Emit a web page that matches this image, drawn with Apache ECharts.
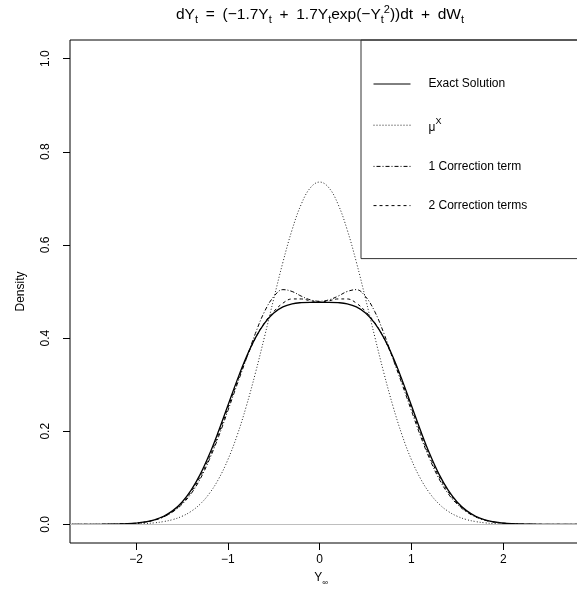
<!DOCTYPE html>
<html><head><meta charset="utf-8">
<script src="https://cdn.jsdelivr.net/npm/echarts@6.0.0/dist/echarts.min.js"></script>
<style>html,body{margin:0;padding:0;background:#fff}#c{width:577px;height:589px}</style>
</head><body><div id="c"></div>
<script>
const xs = [-2.7,-2.6,-2.5,-2.4,-2.3,-2.2,-2.1,-2.0,-1.9,-1.8,-1.7,-1.6,-1.5,-1.4,-1.3,-1.2,-1.1,-1.0,-0.9,-0.8,-0.7,-0.6,-0.5,-0.4,-0.3,-0.2,-0.1,
  0,0.1,0.2,0.3,0.4,0.5,0.6,0.7,0.8,0.9,1.0,1.1,1.2,1.3,1.4,1.5,1.6,1.7,1.8,1.9,2.0,2.1,2.2,2.3,2.4,2.5,2.6,2.7,2.8,2.9,3.0];
const exactSolution = [0,0,0.0001,0.0001,0.0003,0.0007,0.0014,0.0028,0.0054,0.0099,0.0175,0.0295,0.0476,0.0734,0.1078,0.1509,0.2010,0.2551,0.3092,0.3588,0.4005,0.4323,0.4540,0.4671,0.4736,0.4761,0.4768,
  0.4768,
  0.4768,0.4761,0.4736,0.4671,0.4540,0.4323,0.4005,0.3588,0.3092,0.2551,0.2010,0.1509,0.1078,0.0734,0.0476,0.0295,0.0175,0.0099,0.0054,0.0028,0.0014,0.0007,0.0003,0.0001,0.0001,0,0,
  0,0,0];
const muX = [0,0,0,0,0.0001,0.0002,0.0005,0.0009,0.0018,0.0033,0.0060,0.0103,0.0173,0.0280,0.0439,0.0667,0.0978,0.1388,0.1905,0.2530,0.3248,0.4034,0.4845,0.5630,0.6326,0.6876,0.7229,
  0.735,
  0.7229,0.6876,0.6326,0.5630,0.4845,0.4034,0.3248,0.2530,0.1905,0.1388,0.0978,0.0667,0.0439,0.0280,0.0173,0.0103,0.0060,0.0033,0.0018,0.0009,0.0005,0.0002,0.0001,0,0,0,0,
  0,0,0];
const oneCorrection = [0,0,0,0.0001,0.0003,0.0006,0.0012,0.0025,0.005,0.009,0.016,0.027,0.043,0.066,0.098,0.140,0.189,0.244,0.300,0.355,0.410,0.457,0.489,0.504,0.500,0.490,0.482,
  0.479,
  0.482,0.490,0.500,0.504,0.489,0.457,0.410,0.355,0.300,0.244,0.189,0.140,0.098,0.066,0.043,0.027,0.016,0.009,0.005,0.0025,0.0012,0.0006,0.0003,0.0001,0,0,0,
  0,0,0];
const twoCorrections = [0,0,0,0.0001,0.0003,0.0006,0.0013,0.0026,0.005,0.0093,0.0165,0.028,0.045,0.070,0.103,0.145,0.195,0.250,0.305,0.356,0.400,0.433,0.457,0.475,0.484,0.484,0.480,
  0.478,
  0.480,0.484,0.484,0.475,0.457,0.433,0.400,0.356,0.305,0.250,0.195,0.145,0.103,0.070,0.045,0.028,0.0165,0.0093,0.005,0.0026,0.0013,0.0006,0.0003,0.0001,0,0,0,
  0,0,0];
const xTicks = [-2,-1,0,1,2];
const yTicks = [0,0.2,0.4,0.6,0.8,1.0];
const seriesNames = ['Exact Solution','μ^x','1 Correction term','2 Correction terms'];

const FONT = 'Liberation Sans, Arial, Helvetica, sans-serif';
const pairs = arr => xs.map((x,i)=>[x,arr[i]]);
const SP = '\u2002';

const chart = echarts.init(document.getElementById('c'), null, {renderer:'canvas'});
const base = {type:'line', symbol:'none', showSymbol:false, smooth:0.4, animation:false, silent:true, color:'#000'};
chart.setOption({
  animation:false,
  backgroundColor:'#fff',
  grid:{left:70, top:40, right:-18, bottom:46, show:true, borderColor:'#000', borderWidth:1,
    backgroundColor:'transparent', containLabel:false, outerBoundsMode:'none'},
  xAxis:{type:'value', min:-2.72, max:3.0,
    axisLine:{show:false, onZero:false}, splitLine:{show:false},
    axisTick:{show:true, customValues:xTicks, length:7, inside:false, lineStyle:{color:'#000'}},
    axisLabel:{customValues:xTicks, margin:11, fontSize:12, fontFamily:FONT, color:'#000',
      formatter:v=> v<0 ? '\u2212'+Math.abs(v) : String(v)}
  },
  yAxis:{type:'value', min:-0.04, max:1.04,
    axisLine:{show:false, onZero:false}, splitLine:{show:false},
    axisTick:{show:true, customValues:yTicks, length:7, inside:false, lineStyle:{color:'#000'}},
    axisLabel:{customValues:yTicks, rotate:90, margin:18, fontSize:12, fontFamily:FONT, color:'#000',
      formatter:v=>v.toFixed(1)},
    name:'Density', nameLocation:'middle', nameRotate:90, nameGap:43,
    nameTextStyle:{fontSize:12, fontFamily:FONT, color:'#000'}
  },
  legend:{
    orient:'vertical', left:361, top:40, padding:[38,80,47,12],
    itemWidth:37, itemHeight:14, itemGap:27.2,
    borderColor:'#333', borderWidth:1, selectedMode:false,
    itemStyle:{opacity:0, borderWidth:0},
    lineStyle:{width:1},
    data:seriesNames,
    formatter:n=> n==='μ^x' ? '{m|μ}{s|X}' : '{t|'+n+'}',
    textStyle:{fontFamily:FONT, fontSize:12, color:'#000',
      rich:{
        t:{fontFamily:FONT, fontSize:12, color:'#000', padding:[0,0,0,13]},
        m:{fontFamily:FONT, fontSize:12, color:'#000', padding:[0,0,0,13], verticalAlign:'bottom', lineHeight:16},
        s:{fontFamily:FONT, fontSize:9, color:'#000', verticalAlign:'top', lineHeight:16}
      }}
  },
  graphic:[
    {type:'text', x:320, y:15, style:{
      text:'{n|dY}{b|t}{n|'+SP+'='+SP+'(\u22121.7Y}{b|t}{n|'+SP+'+'+SP+'1.7Y}{b|t}{n|exp(\u2212Y}{b|t}{p|2}{n|))dt'+SP+'+'+SP+'dW}{b|t}',
      align:'center', verticalAlign:'middle',
      rich:{
        n:{fontFamily:FONT, fontSize:15.5, color:'#000', lineHeight:24, verticalAlign:'middle'},
        b:{fontFamily:FONT, fontSize:11, color:'#000', lineHeight:24, verticalAlign:'bottom', padding:[0,0,2,0]},
        p:{fontFamily:FONT, fontSize:11, color:'#000', lineHeight:24, verticalAlign:'top', padding:[1,0,0,0]}
      }}},
    {type:'text', x:321, y:578, style:{
      text:'{n|Y}{b|\u221E}', align:'center', verticalAlign:'middle',
      rich:{
        n:{fontFamily:FONT, fontSize:12, color:'#000', lineHeight:18, verticalAlign:'middle'},
        b:{fontFamily:FONT, fontSize:8, color:'#000', lineHeight:18, verticalAlign:'bottom'}
      }}}
  ],
  series:[
    Object.assign({}, base, {name:seriesNames[0], data:pairs(exactSolution), z:4,
      lineStyle:{color:'#000', width:1.3, type:'solid'},
      markLine:{silent:true, symbol:'none', animation:false, label:{show:false},
        lineStyle:{color:'#bebebe', type:'solid', width:1}, data:[{yAxis:0}]}}),
    Object.assign({}, base, {name:seriesNames[1], data:pairs(muX), z:3,
      lineStyle:{color:'#222', width:1, type:[1,2]}}),
    Object.assign({}, base, {name:seriesNames[2], data:pairs(oneCorrection), z:3,
      lineStyle:{color:'#000', width:1, type:[1,2,4,2]}}),
    Object.assign({}, base, {name:seriesNames[3], data:pairs(twoCorrections), z:3,
      lineStyle:{color:'#000', width:1, type:[3,3]}})
  ]
});
</script></body></html>
